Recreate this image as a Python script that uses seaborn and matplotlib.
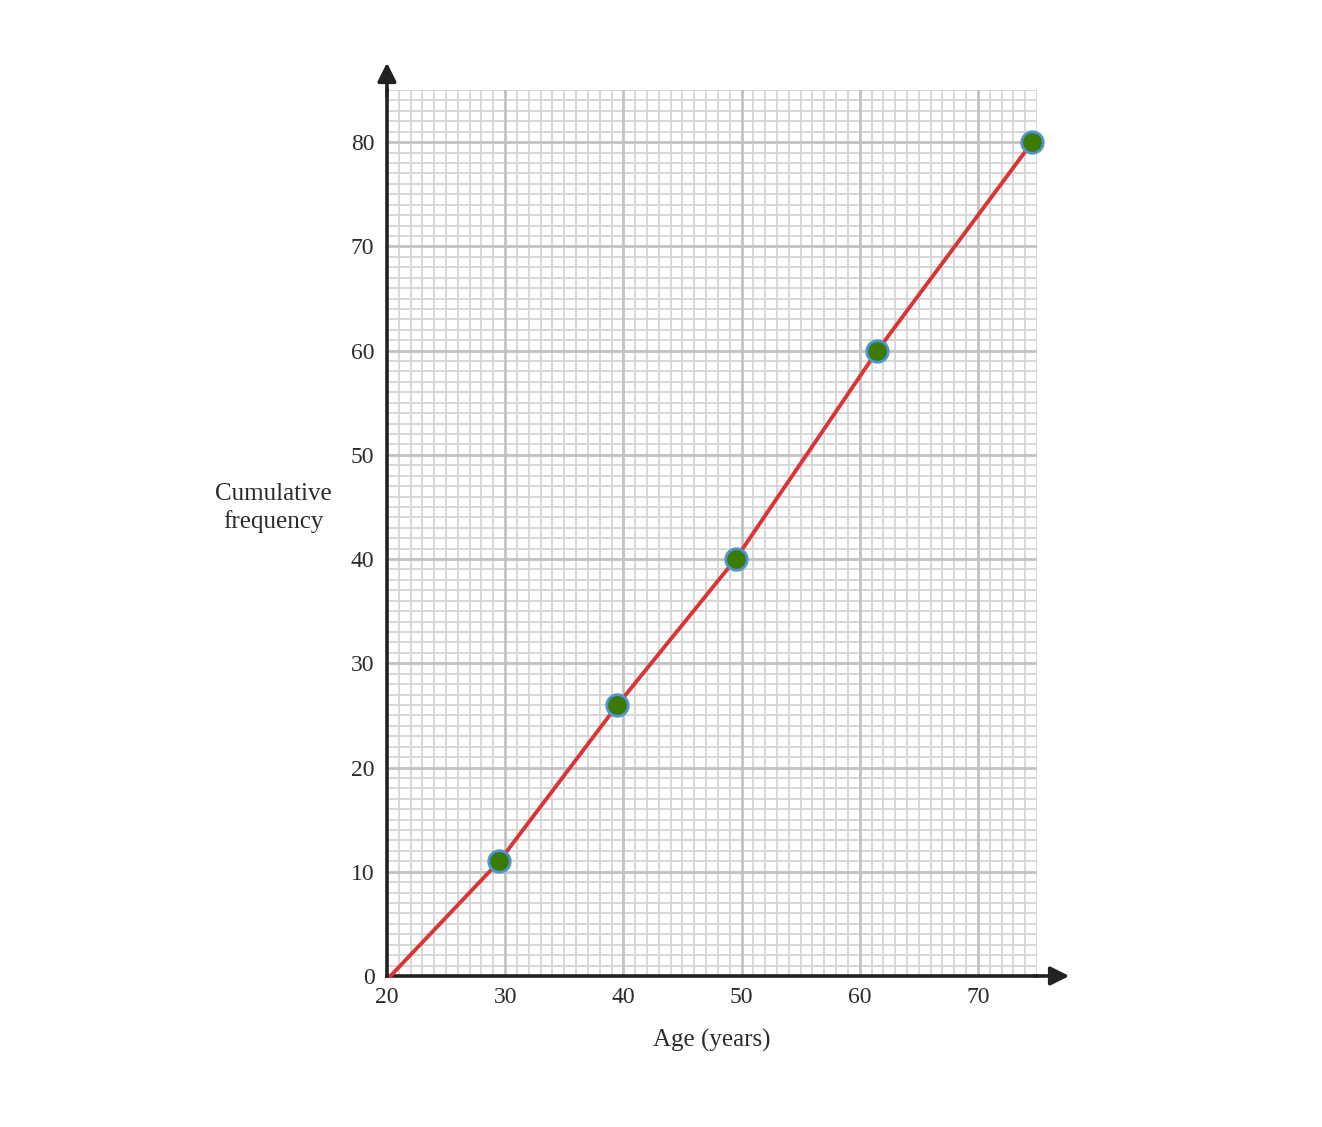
import matplotlib.pyplot as plt
import seaborn as sns
import pandas as pd
import numpy as np

# data
ages = [20.3, 29.5, 39.5, 49.5, 61.5, 74.6]
cum_freq = [0, 11, 26, 40, 60, 80]
point_ages = [29.5, 39.5, 49.5, 61.5, 74.6]
point_freq = [11, 26, 40, 60, 80]
x_ticks = [20, 30, 40, 50, 60, 70]
y_ticks = [0, 10, 20, 30, 40, 50, 60, 70, 80]

sns.set_style("white")
plt.rcParams['font.family'] = ['Liberation Serif', 'DejaVu Serif']

df_line = pd.DataFrame({'age': ages, 'cf': cum_freq})
df_pts = pd.DataFrame({'age': point_ages, 'cf': point_freq})

fig = plt.figure(figsize=(13.22, 11.27), dpi=100)
ax = fig.add_axes([0.2927, 0.1340, 0.4917, 0.7861])

ax.set_xlim(20, 75)
ax.set_ylim(0, 85)

# graph paper grid
for v in np.arange(21, 76, 1):
    if v % 10 != 0:
        ax.axvline(v, color='#d4d4d4', lw=1.3, zorder=0)
for v in np.arange(1, 86, 1):
    if v % 10 != 0:
        ax.axhline(v, color='#d4d4d4', lw=1.3, zorder=0)
for v in np.arange(30, 76, 10):
    ax.axvline(v, color='#c2c2c2', lw=2.0, zorder=0)
for v in np.arange(10, 86, 10):
    ax.axhline(v, color='#c2c2c2', lw=2.0, zorder=0)

sns.lineplot(data=df_line, x='age', y='cf', ax=ax, color='#d93535', lw=2.8,
             sort=False, zorder=3, clip_on=False)
sns.scatterplot(data=df_pts, x='age', y='cf', ax=ax, color='#3a7a05', s=240,
                edgecolor='#4f95cf', linewidth=2.0, zorder=4, clip_on=False)

ax.set_xticks(x_ticks)
ax.set_yticks(y_ticks)
ax.tick_params(axis='both', length=0, labelsize=17, labelcolor='#2b2b2b')
ax.tick_params(axis='x', pad=8)
ax.tick_params(axis='y', pad=9)
ax.set_xlabel('')
ax.set_ylabel('')

for s in ['top', 'right']:
    ax.spines[s].set_visible(False)
for s in ['left', 'bottom']:
    ax.spines[s].set_color('#222222')
    ax.spines[s].set_linewidth(2.6)

# axis arrows
ax.annotate('', xy=(0, 1.034), xytext=(0, 0.99), xycoords='axes fraction',
            arrowprops=dict(arrowstyle='-|>', color='#222222', lw=2.6,
                            mutation_scale=28), annotation_clip=False)
ax.annotate('', xy=(1.054, 0), xytext=(0.99, 0), xycoords='axes fraction',
            arrowprops=dict(arrowstyle='-|>', color='#222222', lw=2.6,
                            mutation_scale=28), annotation_clip=False)

fig.text(273 / 1322, 1 - 508 / 1127, 'Cumulative\nfrequency', ha='center',
         va='center', fontsize=18, color='#2b2b2b', linespacing=1.25)
fig.text(712 / 1322, 1 - 1040 / 1127, 'Age (years)', ha='center',
         va='center', fontsize=18, color='#2b2b2b')

fig.savefig('out.png', dpi=100, facecolor='white')
